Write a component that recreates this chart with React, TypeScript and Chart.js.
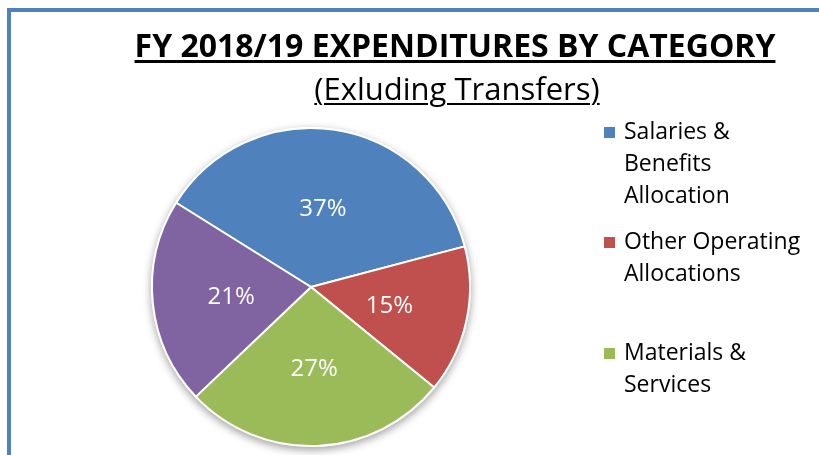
import React, { useEffect, useRef } from 'react';
import { Chart, registerables } from 'chart.js';

Chart.register(...registerables);

const titleText = 'FY 2018/19 EXPENDITURES BY CATEGORY';
const subtitleText = '(Exluding Transfers)';
const categories = [
  'Salaries & Benefits Allocation',
  'Other Operating Allocations',
  'Materials & Services',
  'Other',
];
const values = [37, 15, 27, 21];
const colors = ['#4F81BD', '#C0504D', '#9BBB59', '#8064A2'];
// legend text as wrapped in the picture (the fourth entry is cut off below the frame)
const legendLines = [
  ['Salaries &', 'Benefits', 'Allocation'],
  ['Other Operating', 'Allocations'],
  ['Materials &', 'Services'],
];

const FONT = '"Open Sans", "Noto Sans", sans-serif';

const shadowPlugin = {
  id: 'pieShadow',
  beforeDatasetsDraw(chart: any) {
    const meta = chart.getDatasetMeta(0);
    if (!meta.data.length) return;
    const { x, y, outerRadius } = meta.data[0].getProps(['x', 'y', 'outerRadius'], true);
    const ctx = chart.ctx;
    ctx.save();
    ctx.shadowColor = 'rgba(0,0,0,0.38)';
    ctx.shadowBlur = 8;
    ctx.shadowOffsetX = 0;
    ctx.shadowOffsetY = 3;
    ctx.beginPath();
    ctx.arc(x, y, outerRadius + 1, 0, Math.PI * 2);
    ctx.fillStyle = '#ffffff';
    ctx.fill();
    ctx.restore();
  },
};

const labelPlugin = {
  id: 'pctLabels',
  afterDatasetsDraw(chart: any) {
    const meta = chart.getDatasetMeta(0);
    const data = chart.data.datasets[0].data as number[];
    const total = data.reduce((a, b) => a + b, 0);
    const ctx = chart.ctx;
    const fs = 24;
    ctx.save();
    ctx.font = `${fs}px ${FONT}`;
    ctx.fillStyle = '#ffffff';
    ctx.textAlign = 'center';
    ctx.textBaseline = 'alphabetic';
    meta.data.forEach((arc: any, i: number) => {
      const p = arc.getProps(['x', 'y', 'startAngle', 'endAngle', 'outerRadius'], true);
      const mid = (p.startAngle + p.endAngle) / 2;
      const r = p.outerRadius * 0.505;
      const cx = p.x + Math.cos(mid) * r;
      const cy = p.y + Math.sin(mid) * r;
      const pct = Math.round((data[i] / total) * 100);
      ctx.fillText(`${pct}%`, cx, cy + fs * 0.357);
    });
    ctx.restore();
  },
};

export default function App() {
  const canvasRef = useRef<HTMLCanvasElement | null>(null);

  useEffect(() => {
    if (!canvasRef.current) return;
    const chart = new Chart(canvasRef.current, {
      type: 'pie',
      data: {
        labels: categories,
        datasets: [
          {
            data: values,
            backgroundColor: colors,
            borderColor: '#ffffff',
            borderWidth: 2,
          },
        ],
      },
      options: {
        responsive: false,
        animation: false,
        rotation: -58,
        layout: { padding: { left: 151, right: 348, top: 127, bottom: 8 } },
        plugins: {
          legend: { display: false },
          title: { display: false },
          tooltip: { enabled: false },
        },
      },
      plugins: [shadowPlugin, labelPlugin],
    });
    return () => chart.destroy();
  }, []);

  const legendTops = [114, 224, 335];

  return (
    <div
      style={{
        position: 'fixed',
        left: 0,
        top: 0,
        width: 819,
        height: 455,
        overflow: 'hidden',
        background: '#ffffff',
        fontFamily: FONT,
      }}
    >
      <div
        style={{
          position: 'absolute',
          left: 7,
          top: 8,
          right: -10,
          bottom: -10,
          borderLeft: '4px solid #4F81BD',
          borderTop: '4px solid #4F81BD',
        }}
      />
      <canvas
        ref={canvasRef}
        width={819}
        height={455}
        style={{ position: 'absolute', left: 0, top: 0, width: 819, height: 455 }}
      />
      <div
        style={{
          position: 'absolute',
          left: 455,
          top: 25,
          transform: 'translateX(-50%)',
          whiteSpace: 'nowrap',
          fontSize: 32,
          lineHeight: '40px',
          fontWeight: 700,
          color: '#000',
          textDecoration: 'underline',
          textDecorationThickness: '3px',
          textUnderlineOffset: '3px',
        }}
      >
        {titleText}
      </div>
      <div
        style={{
          position: 'absolute',
          left: 457,
          top: 68,
          transform: 'translateX(-50%)',
          whiteSpace: 'nowrap',
          fontSize: 31,
          lineHeight: '40px',
          color: '#000',
          textDecoration: 'underline',
          textDecorationThickness: '2px',
          textUnderlineOffset: '3px',
        }}
      >
        {subtitleText}
      </div>
      {legendLines.map((lines, i) => (
        <div key={i} style={{ position: 'absolute', left: 604, top: legendTops[i] }}>
          <div
            style={{
              position: 'absolute',
              left: 0,
              top: 13,
              width: 11,
              height: 11,
              background: colors[i],
            }}
          />
          <div
            style={{
              position: 'absolute',
              left: 20,
              top: 0,
              whiteSpace: 'nowrap',
              fontSize: 23,
              lineHeight: '32px',
              color: '#000',
            }}
          >
            {lines.map((l, j) => (
              <div key={j}>{l}</div>
            ))}
          </div>
        </div>
      ))}
    </div>
  );
}
